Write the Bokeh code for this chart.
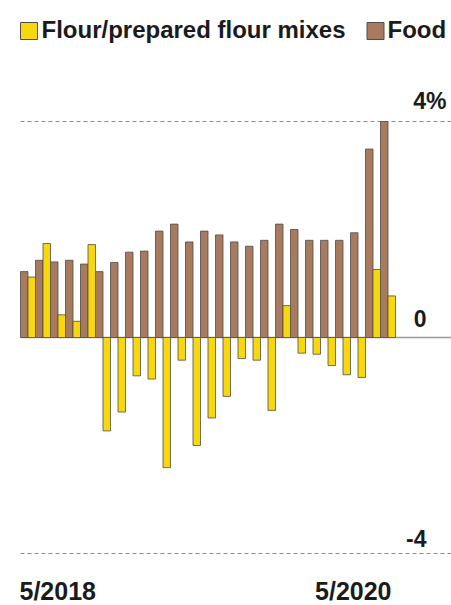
from bokeh.plotting import figure
from bokeh.models import Range1d, ColumnDataSource
from bokeh.core.properties import value
from bokeh.embed import file_html
from bokeh.resources import INLINE

# Monthly year-over-year change, %, May 2018 through May 2020
months = ["5/2018", "6/2018", "7/2018", "8/2018", "9/2018", "10/2018", "11/2018",
          "12/2018", "1/2019", "2/2019", "3/2019", "4/2019", "5/2019", "6/2019",
          "7/2019", "8/2019", "9/2019", "10/2019", "11/2019", "12/2019", "1/2020",
          "2/2020", "3/2020", "4/2020", "5/2020"]
food = [1.22, 1.43, 1.40, 1.43, 1.36, 1.22, 1.39, 1.58, 1.60, 1.97, 2.10, 1.77, 1.97,
        1.90, 1.77, 1.69, 1.80, 2.10, 2.00, 1.80, 1.80, 1.80, 1.94, 3.49, 4.00]
flour = [1.12, 1.74, 0.42, 0.30, 1.72, -1.73, -1.38, -0.71, -0.77, -2.41, -0.42, -2.00,
         -1.49, -1.09, -0.39, -0.42, -1.35, 0.59, -0.29, -0.31, -0.52, -0.69, -0.74,
         1.26, 0.77]
y_ticks = [4, 0, -4]
y_tick_labels = ["4%", "0", "-4"]
x_tick_labels = ["5/2018", "5/2020"]
series_names = ["Flour/prepared flour mixes", "Food"]

YELLOW = "#F8D80C"
BROWN = "#A97B5E"
OUTLINE = "#4d4d4d"
INK = "#1b1b1b"
GRID = "#8c8c8c"
FONT = value("Liberation Sans")
DESC = 0.21  # font descent as a fraction of the font size

W, H = 451, 605
# pixel geometry of the frame: month spacing and zero line
X0, DX = 27.5, 15.0
Y0, DY = 337.0, 54.0


def dx(px):
    return (px - X0) / DX


def dy(py):
    return (Y0 - py) / DY


def label(x_px, base_px, texts, size, align):
    # place text by its baseline (pixel row), using a bottom-anchored box
    p.text(x=[dx(v) for v in x_px], y=[dy(base_px + DESC * size)] * len(texts),
           text=texts, text_font=FONT, text_font_style="bold",
           text_font_size=f"{size}px", text_color=INK, text_align=align,
           text_baseline="bottom")


p = figure(width=W, height=H, output_backend="svg", toolbar_location=None,
           x_range=Range1d(dx(0), dx(W)), y_range=Range1d(dy(H), dy(0)),
           min_border=0, outline_line_color=None)
p.axis.visible = False
p.grid.visible = False
p.background_fill_color = "white"
p.border_fill_color = "white"

idx = list(range(len(months)))
src = ColumnDataSource(dict(
    xb=[i - 0.25 for i in idx], xf=[i + 0.25 for i in idx], food=food, flour=flour))

# reference lines at +4 / -4 and the zero baseline
x_left = dx(20)
x_right = dx(W)
for t in y_ticks:
    if t == 0:
        p.segment(x0=x_left, y0=0, x1=x_right, y1=0, line_color="#9a9a9a", line_width=1.5)
    else:
        p.segment(x0=x_left, y0=t, x1=x_right, y1=t, line_color=GRID, line_width=1.2,
                  line_dash="4 3")

p.vbar(x="xb", top="food", bottom=0, width=0.5, source=src, fill_color=BROWN,
       line_color=OUTLINE, line_width=0.8)
p.vbar(x="xf", top="flour", bottom=0, width=0.5, source=src, fill_color=YELLOW,
       line_color=OUTLINE, line_width=0.8)

# scale labels above each reference line, on the right edge
label([446], Y0 - y_ticks[0] * DY - 12, [y_tick_labels[0]], 23, "right")
label([426], Y0 - 15, [y_tick_labels[1]], 23, "right")
label([426], Y0 - y_ticks[2] * DY - 11, [y_tick_labels[2]], 23, "right")

# first and last month labels
label([19], 599, [x_tick_labels[0]], 25, "left")
label([391], 599, [x_tick_labels[1]], 25, "right")

# legend
p.rect(x=[dx(28.5), dx(375)], y=[dy(30.5)] * 2, width=17, height=17,
       width_units="screen", height_units="screen",
       fill_color=[YELLOW, BROWN], line_color=OUTLINE, line_width=1)
label([41, 387], 37, series_names, 24, "left")

open("out.html", "w").write(file_html(p, INLINE))
